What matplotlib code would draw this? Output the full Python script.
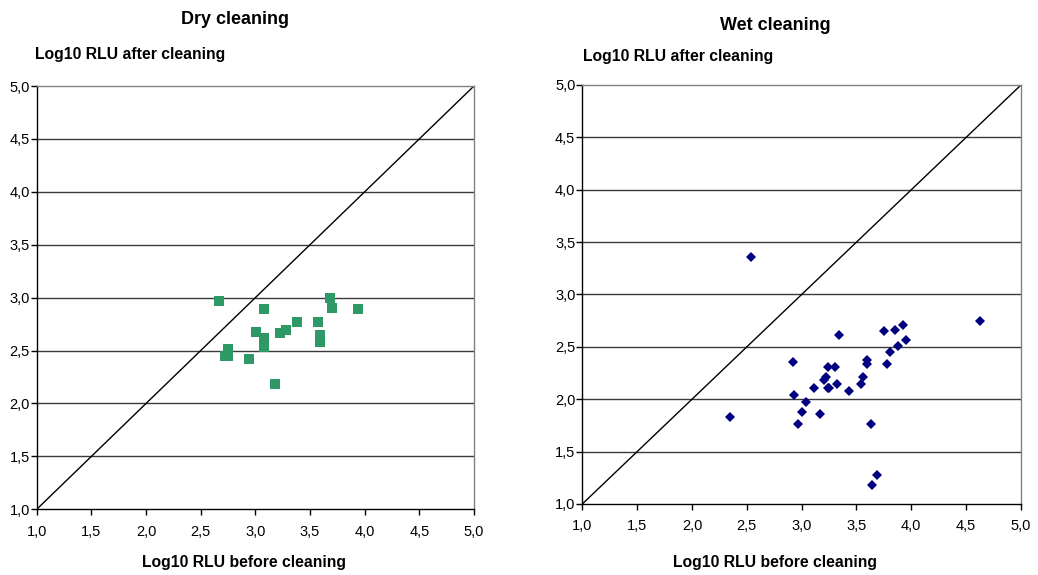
import numpy as np
import matplotlib.pyplot as plt

plt.rcParams['font.family'] = ['Liberation Sans', 'DejaVu Sans']

# Dry cleaning: log10 RLU before / after
dry_before = [2.67, 3.68, 3.08, 3.70, 3.94, 3.38, 3.57, 3.01, 3.28, 3.23,
              3.08, 3.59, 3.59, 3.08, 2.75, 2.72, 2.75, 2.94, 3.18]
dry_after = [2.97, 3.00, 2.89, 2.90, 2.89, 2.77, 2.77, 2.68, 2.69, 2.67,
             2.62, 2.65, 2.58, 2.53, 2.51, 2.45, 2.45, 2.42, 2.18]

# Wet cleaning: log10 RLU before / after
wet_before = [2.54, 4.63, 3.34, 3.75, 3.85, 3.92, 3.95, 3.88, 3.81, 3.78,
              3.60, 3.60, 2.92, 3.24, 3.30, 3.22, 3.20, 3.24, 3.32, 3.56,
              3.54, 3.11, 3.25, 3.43, 2.93, 3.04, 3.00, 3.17, 2.97, 2.35,
              3.63, 3.69, 3.64]
wet_after = [3.36, 2.75, 2.61, 2.65, 2.66, 2.71, 2.57, 2.51, 2.45, 2.34,
             2.37, 2.34, 2.36, 2.31, 2.31, 2.21, 2.18, 2.11, 2.15, 2.21,
             2.15, 2.11, 2.11, 2.08, 2.04, 1.97, 1.88, 1.86, 1.76, 1.83,
             1.76, 1.28, 1.18]

ticks = np.arange(1.0, 5.01, 0.5)
tick_labels = [f"{t:.1f}".replace('.', ',') for t in ticks]

W, H = 1038, 575
fig = plt.figure(figsize=(W / 100, H / 100), dpi=100)

# rect, x, y, marker, colour, size, title, title pos (px), ylabel left (px), ylabel y (px), xlabel centre (px)
panels = [
    ([0.0354, 0.1143, 0.4212, 0.7361], dry_before, dry_after, 's', '#2E9966', 6.5,
     'Dry cleaning', (235, 20), (35, 55), 244),
    ([0.5610, 0.1235, 0.4226, 0.7287], wet_before, wet_after, 'D', '#000080', 4.8,
     'Wet cleaning', (775, 25), (583, 57), 775),
]

for rect, xs, ys, mk, col, ms, title, tpos, ypos, xlab in panels:
    ax = fig.add_axes(rect)
    ax.set_xlim(1, 5)
    ax.set_ylim(1, 5)
    for t in ticks[1:-1]:
        ax.axhline(t, color='#3a3a3a', lw=1, zorder=1)
    ax.plot([1, 5], [1, 5], color='black', lw=1, zorder=2)
    ax.plot(xs, ys, linestyle='none', marker=mk, ms=ms, color=col,
            markeredgewidth=0, zorder=3, clip_on=False)
    ax.set_xticks(ticks)
    ax.set_yticks(ticks)
    ax.set_xticklabels(tick_labels, fontsize=10.5)
    ax.set_yticklabels(tick_labels, fontsize=10.5)
    ax.tick_params(axis='x', direction='out', length=4, width=1, pad=7)
    ax.tick_params(axis='y', direction='out', length=4, width=1, pad=1)
    ax.spines['left'].set_color('black')
    ax.spines['bottom'].set_color('black')
    ax.spines['top'].set_color('#808080')
    ax.spines['right'].set_color('#808080')
    for s in ax.spines.values():
        s.set_linewidth(1)

    fig.text(tpos[0] / W, 1 - tpos[1] / H, title, fontsize=13, fontweight='bold',
             ha='center', va='center')
    fig.text(ypos[0] / W, 1 - ypos[1] / H, 'Log10 RLU after cleaning', fontsize=11.3,
             fontweight='bold', ha='left', va='center')
    fig.text(xlab / W, 1 - 563 / H, 'Log10 RLU before cleaning', fontsize=11.3,
             fontweight='bold', ha='center', va='center')

fig.savefig('out.png', dpi=100)
